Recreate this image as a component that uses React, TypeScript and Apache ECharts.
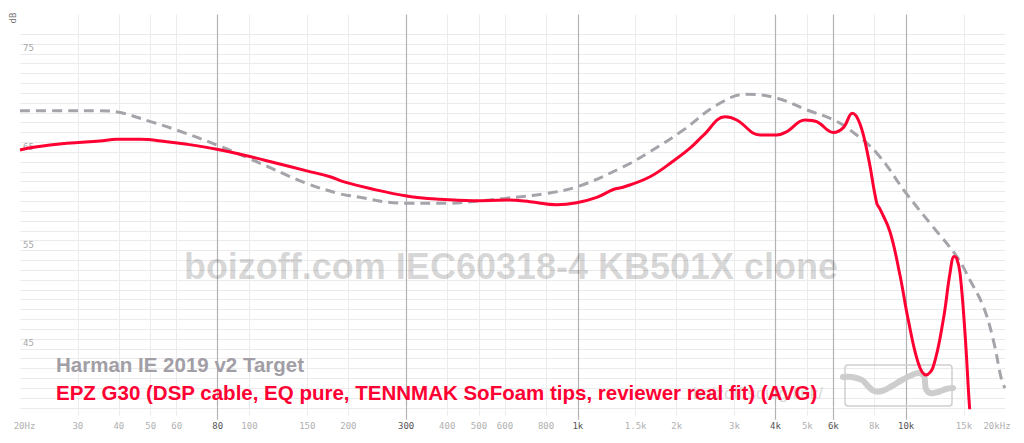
import React, { useEffect, useRef } from 'react';
import * as echarts from 'echarts';

// ---- Data ----
const FREQ_TICKS = [20, 30, 40, 50, 60, 80, 100, 150, 200, 300, 400, 500, 600, 800, 1000, 1500, 2000, 3000, 4000, 5000, 6000, 8000, 10000, 15000, 20000];
const FREQ_LABELS = ['20Hz', '30', '40', '50', '60', '80', '100', '150', '200', '300', '400', '500', '600', '800', '1k', '1.5k', '2k', '3k', '4k', '5k', '6k', '8k', '10k', '15k', '20kHz'];
const MAJOR_FREQS = [80, 300, 1000, 4000, 6000, 10000];
const DB_LABELS = [45, 55, 65, 75];

const targetName = 'Harman IE 2019 v2 Target';
const targetFreq = [20, 26.5, 35, 40, 50, 60, 80, 100, 150, 189, 200, 300, 400, 500, 600, 800, 1000, 1373, 1659, 2095, 2654, 3270, 4040, 4980, 6000, 6750, 8140, 10010, 12070, 14250, 15640, 17180, 18420, 19540, 20000];
const targetDb = [68.2, 68.2, 68.2, 68.05, 67.1, 66.25, 64.7, 63.35, 60.8, 59.75, 59.6, 58.8, 58.8, 59.05, 59.3, 59.8, 60.5, 62.5, 64.05, 66.25, 68.8, 69.9, 69.5, 68.3, 67.3, 66.25, 63.9, 59.8, 56.4, 53.4, 51.0, 48.3, 44.9, 40.8, 40.0];

const g30Name = 'EPZ G30 (DSP cable, EQ pure, TENNMAK SoFoam tips, reviewer real fit) (AVG)';
const g30Freq = [20, 22, 27.75, 35, 39.4, 46.4, 56, 64.6, 79.5, 98, 121, 149.4, 176, 193, 233, 301, 380, 480, 607, 715, 862, 992, 1142, 1282, 1373, 1659, 1954, 2196, 2411, 2808, 3048, 3589, 4040, 4327, 4920, 5340, 6000, 6438, 6855, 7235, 7666, 8137, 8327, 8928, 9573, 10150, 10890, 11490, 12090, 12970, 13600, 14000, 14250, 14590, 15110, 15640, 16200];
const g30Db = [64.22, 64.5, 64.9, 65.14, 65.3, 65.3, 65.06, 64.8, 64.3, 63.64, 62.87, 62.1, 61.5, 61.0, 60.3, 59.54, 59.2, 59.06, 59.13, 58.96, 58.66, 58.86, 59.4, 60.2, 60.43, 61.5, 63.1, 64.4, 65.7, 67.6, 67.27, 65.75, 65.75, 66.08, 67.27, 67.1, 66.0, 66.5, 67.95, 66.86, 63.5, 58.8, 58.2, 55.9, 51.5, 46.93, 42.53, 41.34, 42.18, 46.93, 51.7, 53.4, 53.2, 51.7, 45.58, 37.5, 32];

const Y_MIN = 38;
const Y_MAX = 78;

export default function App() {
  const ref = useRef<HTMLDivElement>(null);
  useEffect(() => {
    const chart = echarts.init(ref.current!, null, { renderer: 'svg' });
    const lg = (f: number) => Math.log10(f);
    const minorLogs = FREQ_TICKS.filter(f => f !== 20 && f !== 20000 && !MAJOR_FREQS.includes(f)).map(lg);
    const majorLogs = MAJOR_FREQS.map(lg);
    const allLogs = FREQ_TICKS.map(lg);
    const labelFor = (v: number) => {
      const i = FREQ_TICKS.findIndex(f => Math.abs(lg(f) - v) < 1e-6);
      if (i < 0) return '';
      const f = FREQ_TICKS[i];
      const t = FREQ_LABELS[i];
      if (i === 0) return `{first|${t}}`;
      if (i === FREQ_TICKS.length - 1) return `{last|${t}}`;
      return MAJOR_FREQS.includes(f) ? `{d|${t}}` : `{l|${t}}`;
    };
    const yColors: string[] = [];
    for (let v = Y_MIN; v <= Y_MAX; v++) yColors.push(v >= 77 ? 'rgba(0,0,0,0)' : '#ebebeb');
    const mono = '"DejaVu Sans Mono", monospace';

    const baseX = {
      type: 'value',
      min: lg(20),
      max: lg(20000),
      position: 'bottom',
      axisLine: { show: false, onZero: false },
    };

    chart.setOption({
      animation: false,
      backgroundColor: '#ffffff',
      grid: { left: 20, right: 19, top: 14.5, bottom: 35.2, containLabel: false },
      xAxis: [
        {
          ...baseX,
          axisTick: { show: true, customValues: minorLogs, length: 8, lineStyle: { color: '#ececec', width: 1 } },
          splitLine: { show: true, lineStyle: { color: '#ececec', width: 1 } },
          axisLabel: {
            show: true,
            customValues: allLogs,
            margin: 14,
            formatter: (v: number) => labelFor(v),
            rich: {
              l: { fontFamily: mono, fontSize: 9, color: '#b0b0b0' },
              d: { fontFamily: mono, fontSize: 9, color: '#555555' },
              first: { fontFamily: mono, fontSize: 9, color: '#b0b0b0', padding: [0, 0, 0, 9] },
              last: { fontFamily: mono, fontSize: 9, color: '#b0b0b0', padding: [0, 16, 0, 0] },
            },
          },
        },
        {
          ...baseX,
          axisTick: { show: true, customValues: majorLogs, length: 12, lineStyle: { color: '#b3b3b3', width: 1.2 } },
          splitLine: { show: true, lineStyle: { color: '#b3b3b3', width: 1.2 } },
          axisLabel: { show: false },
        },
      ],
      yAxis: {
        type: 'value',
        min: Y_MIN,
        max: Y_MAX,
        interval: 1,
        axisLine: { show: false },
        axisTick: { show: false },
        splitLine: { show: true, lineStyle: { color: yColors, width: 1 } },
        axisLabel: {
          inside: true,
          margin: 3,
          verticalAlign: 'top',
          fontFamily: mono,
          fontSize: 9,
          color: '#a8a8a8',
          formatter: (v: number) => (DB_LABELS.includes(v) ? String(v) : ''),
        },
      },
      graphic: [
        {
          type: 'text', x: 13, y: 18, rotation: Math.PI / 2, z: 5,
          style: { text: 'dB', font: '9px "DejaVu Sans Mono", monospace', fill: '#777777', align: 'center', verticalAlign: 'middle' },
        },
        {
          type: 'text', x: 511, y: 266, z: 1,
          style: { text: 'boizoff.com IEC60318-4 KB501X clone', font: 'bold 36px "Liberation Sans", Arial, sans-serif', fill: 'rgba(0,0,0,0.17)', align: 'center', verticalAlign: 'middle' },
        },
        {
          type: 'rect', z: 1,
          shape: { x: 845, y: 365, width: 107, height: 41, r: 3 },
          style: { fill: 'none', stroke: '#cfcfcf', lineWidth: 1.5 },
        },
        {
          type: 'polyline', z: 1,
          shape: {
            points: [[843, 377], [852, 377], [862, 380], [868, 386], [874, 391], [882, 391], [892, 386], [902, 380], [912, 375], [919, 373], [924, 376], [925, 382], [926, 389], [930, 393], [938, 392], [946, 389], [953, 388]],
            smooth: 0.4,
          },
          style: { fill: 'none', stroke: '#cdcdcd', lineWidth: 6, lineCap: 'round', lineJoin: 'round' },
        },
        {
          type: 'text', x: 823, y: 393, z: 1,
          style: { text: 'boizoff.squig.link/', font: '17px "Liberation Sans", Arial, sans-serif', fill: '#d9d9d9', align: 'right', verticalAlign: 'middle' },
        },
        {
          type: 'text', x: 56, y: 364, z: 100,
          style: { text: targetName, font: 'bold 20.5px "Liberation Sans", Arial, sans-serif', fill: '#a29ea6', align: 'left', verticalAlign: 'middle' },
        },
        {
          type: 'text', x: 56, y: 392, z: 100,
          style: { text: g30Name, font: 'bold 20.5px "Liberation Sans", Arial, sans-serif', fill: '#ff0033', align: 'left', verticalAlign: 'middle' },
        },
      ],
      series: [
        {
          name: targetName,
          type: 'line',
          xAxisIndex: 0,
          showSymbol: false,
          smooth: 0.4,
          z: 3,
          lineStyle: { color: '#a7a3ab', width: 3, type: [10, 6] },
          data: targetFreq.map((f, i) => [lg(f), targetDb[i]]),
        },
        {
          name: g30Name,
          type: 'line',
          xAxisIndex: 0,
          showSymbol: false,
          smooth: 0.4,
          z: 4,
          lineStyle: { color: '#ff0033', width: 3 },
          data: g30Freq.map((f, i) => [lg(f), g30Db[i]]),
        },
      ],
    });
    return () => chart.dispose();
  }, []);
  return <div ref={ref} style={{ position: 'absolute', left: 0, top: 0, width: 1024, height: 443 }} />;
}
